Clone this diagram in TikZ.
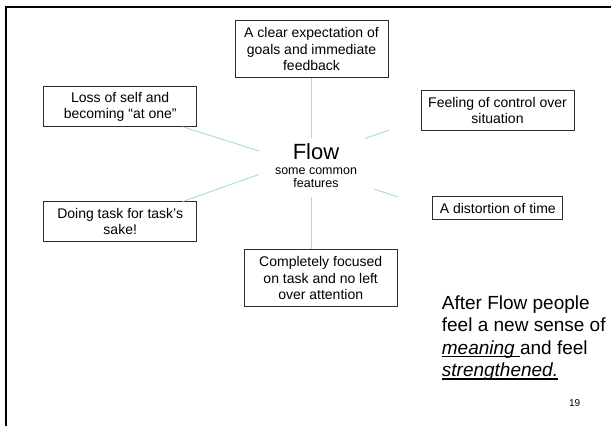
\documentclass[tikz,border=0pt]{standalone}
\usepackage{fontspec}
\setmainfont{Liberation Sans}
\definecolor{spoke}{RGB}{172,216,222}
\definecolor{boxline}{RGB}{45,45,45}
% underline a piece of text with a rule of fixed depth
\newsavebox\ulinebox
\newcommand\underlinedtext[1]{\sbox\ulinebox{#1}\rlap{\rule[-3.4pt]{\wd\ulinebox}{1.3pt}}\usebox\ulinebox}
\begin{document}
\begin{tikzpicture}[x=1pt,y=-1pt,
  feature/.style={draw=boxline,line width=0.9pt,fill=white,align=center,
    font=\fontsize{14}{16.3}\selectfont,inner sep=0pt},
  spokeline/.style={draw=spoke,line width=0.9pt}]
  \useasboundingbox (0,0) rectangle (611,426);
  % slide frame (top and left edges)
  \draw[line width=2pt] (6.3,426) -- (6.3,7) -- (611,7);

  % feature boxes
  \node[feature,minimum width=153pt,minimum height=57pt] (goals) at (311.5,49.2)
    {A clear expectation of\\goals and immediate\\feedback};
  \node[feature,minimum width=153pt,minimum height=40pt] (self) at (120.2,106.8)
    {Loss of self and\\becoming “at one”};
  \node[feature,minimum width=153pt,minimum height=40pt] (control) at (497.5,110.8)
    {Feeling of control over\\situation};
  \node[feature,minimum width=130pt,minimum height=23pt] (time) at (497.8,208.4)
    {A distortion of time};
  \node[feature,minimum width=153pt,minimum height=40pt] (sake) at (120.2,221.5)
    {Doing task for task’s\\sake!};
  \node[feature,minimum width=153pt,minimum height=57pt] (focus) at (320.7,278)
    {Completely focused\\on task and no left\\over attention};

  % centre label (multi-line nodes sit on the baseline of their last line)
  \node[font=\fontsize{22}{24}\selectfont,anchor=base] (flow) at (316,159.5) {Flow};
  \node[font=\fontsize{12.5}{12.6}\selectfont,align=center,anchor=base] (sub) at (316,187)
    {some common\\features};

  % spokes
  \coordinate (gIn) at (311.5,138.3);
  \coordinate (fOut) at (311.5,249.3);
  \coordinate (fIn) at (311.5,197.3);
  \coordinate (sIn) at (259.3,151);
  \coordinate (sOut) at (182.7,126.8);
  \coordinate (dIn) at (259.3,174.3);
  \coordinate (dOut) at (182.7,201.5);
  \coordinate (cIn) at (365,138.5);
  \coordinate (cOut) at (389,130);
  \coordinate (tIn) at (374,189);
  \coordinate (tOut) at (397.7,196.8);
  \draw[spokeline] (goals.south) -- (gIn);
  \draw[spokeline] (fIn) -- (fOut);
  \draw[spokeline] (sIn) -- (sOut);
  \draw[spokeline] (dIn) -- (dOut);
  \draw[spokeline] (cIn) -- (cOut);
  \draw[spokeline] (tIn) -- (tOut);

  % closing remark
  \node[anchor=base west,align=left,inner sep=0pt,
    font=\fontsize{19}{22.3}\selectfont] (after) at (441.7,376.3)
    {After Flow people\\feel a new sense of\\\underlinedtext{\itshape meaning }and feel\\\underlinedtext{\itshape strengthened.}};

  % page number
  \node[anchor=base,font=\fontsize{10}{12}\selectfont,inner sep=0pt] (page) at (574.7,406.7) {19};
\end{tikzpicture}
\end{document}
